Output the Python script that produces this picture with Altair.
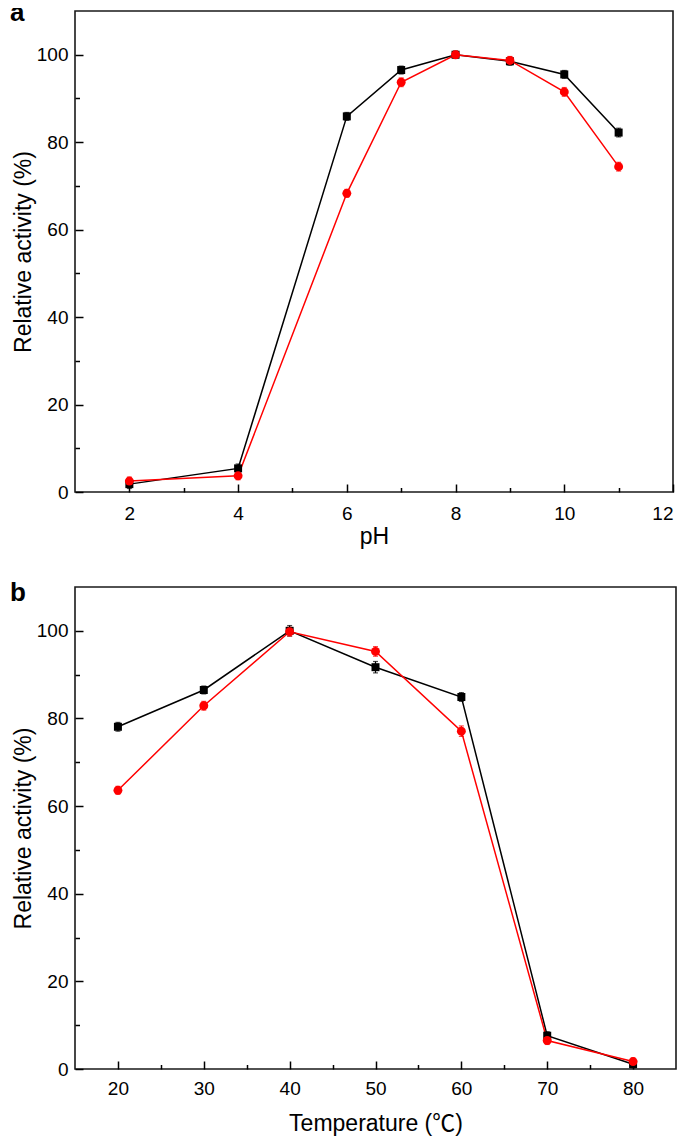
import altair as alt
import pandas as pd

# ---------------- data ----------------
series = ["Savinase", "SAV-PEG-L-cys"]
colors = ["#000000", "#ff0000"]

ph = [2, 4, 6, 7, 8, 9, 10, 11]
ph_sav = [1.8, 5.4, 85.9, 96.5, 100.0, 98.5, 95.5, 82.2]
ph_sav_err = [1.0, 1.0, 0.9, 0.9, 0.8, 0.9, 0.9, 1.0]
ph_peg = [2.5, 3.7, 68.3, 93.7, 100.0, 98.7, 91.5, 74.4]
ph_peg_err = [0.9, 0.9, 0.9, 1.0, 0.8, 0.9, 1.0, 1.0]

temp = [20, 30, 40, 50, 60, 70, 80]
t_sav = [78.1, 86.5, 100.0, 91.7, 84.9, 7.6, 1.1]
t_sav_err = [1.0, 0.9, 1.2, 1.3, 1.0, 0.9, 0.8]
t_peg = [63.6, 82.9, 99.8, 95.3, 77.1, 6.5, 1.7]
t_peg_err = [0.9, 1.0, 1.0, 1.1, 1.2, 0.9, 0.8]

ph_major = [2, 4, 6, 8, 10, 12]
ph_minor = [3, 5, 7, 9, 11]
t_major = [20, 30, 40, 50, 60, 70, 80]
t_minor = [25, 35, 45, 55, 65, 75]
y_major = [0, 20, 40, 60, 80, 100]
y_minor = [10, 30, 50, 70, 90]

FONT = "Liberation Sans, Arial, Noto Sans CJK SC"


def make_df(xs, a, ae, b, be):
    rows = []
    for s, vals, errs in ((series[0], a, ae), (series[1], b, be)):
        for x, v, e in zip(xs, vals, errs):
            rows.append({"x": x, "v": v, "lo": v - e, "hi": v + e, "series": s})
    return pd.DataFrame(rows)


df_ph = make_df(ph, ph_sav, ph_sav_err, ph_peg, ph_peg_err)
df_t = make_df(temp, t_sav, t_sav_err, t_peg, t_peg_err)

# legend symbols: a line with a marker in its middle (custom paths; the
# nominal symbol box is 20px wide, the line runs 47px to the right of it)
sym_sq = ("M-1,-0.08L0.98,-0.08L0.98,0.08L-1,0.08Z "
          "M1.72,-0.08L3.7,-0.08L3.7,0.08L1.72,0.08Z "
          "M0.98,-0.37L1.72,-0.37L1.72,0.37L0.98,0.37Z")
sym_ci = ("M-1,-0.08L0.88,-0.08L0.88,0.08L-1,0.08Z "
          "M1.82,-0.08L3.7,-0.08L3.7,0.08L1.82,0.08Z "
          "M1.82,0L1.757,0.235L1.585,0.407L1.35,0.47L1.115,0.407L0.943,0.235"
          "L0.88,0L0.943,-0.235L1.115,-0.407L1.35,-0.47L1.585,-0.407"
          "L1.757,-0.235Z")


def panel(df, xdom, xmajor, xminor, xtitle, letter, w, h, leg_orient,
          xlp, xtp, letter_y):
    xs = alt.Scale(domain=xdom, nice=False, zero=False)
    ys = alt.Scale(domain=[0, 110], nice=False)
    cs = alt.Scale(domain=series, range=colors)

    tick_style = dict(domain=False, grid=False, tickColor="black",
                      tickWidth=1.5, labelColor="black", labelFont=FONT,
                      labelFontSize=19)
    title_style = dict(titleColor="black", titleFont=FONT, titleFontSize=23,
                       titleFontWeight="normal")
    ax_x = alt.Axis(orient="bottom", values=xmajor, tickSize=8, offset=-8,
                    labelPadding=xlp, title=xtitle, titlePadding=xtp,
                    **tick_style, **title_style)
    ax_y = alt.Axis(orient="left", values=y_major, tickSize=8, offset=-8,
                    labelPadding=7, title="Relative activity (%)",
                    titlePadding=1, **tick_style, **title_style)
    ax_xm = alt.Axis(orient="bottom", values=xminor, tickSize=4.5,
                     offset=-4.5, labels=False, title=None, **tick_style)
    # the minor-tick y axis carries the panel letter as its title
    ax_ym = alt.Axis(orient="left", values=y_minor, tickSize=4.5,
                     offset=-4.5, labels=False, title=letter,
                     titleAngle=0, titleAlign="left",
                     titleBaseline="alphabetic", titleX=-70, titleY=letter_y,
                     titleFont=FONT, titleFontSize=26, titleFontWeight="bold",
                     titleColor="black", **tick_style)

    def X(axis=None):
        return alt.X("x:Q", scale=xs, axis=axis)

    def Y(field="v", axis=None):
        return alt.Y(f"{field}:Q", scale=ys, axis=axis)

    base = alt.Chart(df)

    lines = base.mark_line(strokeWidth=1.5).encode(
        x=X(ax_x), y=Y("v", ax_y),
        color=alt.Color("series:N", scale=cs, legend=None),
        order=alt.Order("x:Q"),
    )
    errs = base.mark_errorbar(ticks=True, thickness=1.2).encode(
        x=X(), y=Y("lo"), y2=alt.Y2("hi:Q"),
        color=alt.Color("series:N", scale=cs, legend=None),
    )
    pts_sq = base.transform_filter(alt.datum.series == series[0]).mark_point(
        shape="square", filled=True, size=64, opacity=1).encode(
        x=X(), y=Y(), color=alt.Color("series:N", scale=cs, legend=None))
    pts_ci = base.transform_filter(alt.datum.series == series[1]).mark_point(
        shape="circle", filled=True, size=80, opacity=1).encode(
        x=X(), y=Y(), color=alt.Color("series:N", scale=cs, legend=None))

    minor = base.transform_filter("false").mark_point(opacity=0).encode(
        x=X(ax_xm), y=Y("v", ax_ym))

    leg = alt.Legend(title=None, orient=leg_orient, offset=13,
                     symbolSize=400, symbolStrokeWidth=0,
                     labelFontSize=20, labelFont=FONT, labelColor="black",
                     labelOffset=33, rowPadding=2, padding=0)
    legend_layer = base.mark_point(filled=True, opacity=1, size=0).encode(
        x=X(), y=Y(),
        fill=alt.Fill("series:N", scale=alt.Scale(domain=series, range=colors),
                      legend=leg),
        shape=alt.Shape("series:N",
                        scale=alt.Scale(domain=series, range=[sym_sq, sym_ci]),
                        legend=leg),
    )

    return alt.layer(lines, errs, pts_sq, pts_ci, minor, legend_layer).resolve_axis(
        x="independent", y="independent"
    ).properties(width=w, height=h)


pa = panel(df_ph, [1, 12], ph_major, ph_minor, "pH", "a", 598, 481,
           "top-left", 12, 2, 9)
pb = panel(df_t, [15, 85], t_major, t_minor, "Temperature (\u2103)", "b",
           601, 482, "top-right", 10, 14, 13)

chart = alt.vconcat(pa, pb, spacing=29).resolve_scale(
    color="independent", fill="independent", shape="independent"
).resolve_legend(
    color="independent", fill="independent", shape="independent"
).properties(
    padding={"left": 0, "top": -10, "right": 0, "bottom": 0}
).configure_view(stroke="#1a1a1a", strokeWidth=1.6)

chart.save("out.html", embed_options={"renderer": "svg", "actions": False})
